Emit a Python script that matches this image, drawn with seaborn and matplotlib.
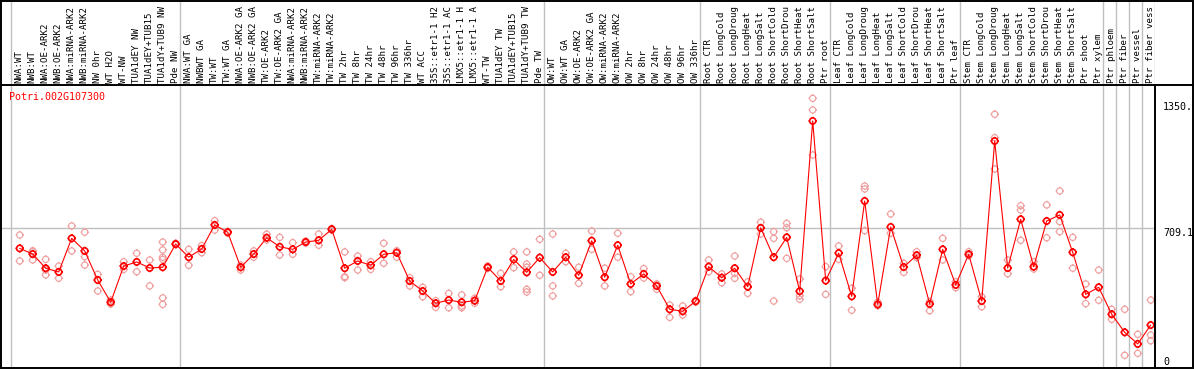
import numpy as np
import pandas as pd
import matplotlib
matplotlib.use("Agg")
import matplotlib.pyplot as plt
import seaborn as sns
from matplotlib.path import Path

# ---------------- data ----------------
gene = "Potri.002G107300"

samples = [
    "NWA:WT", "NWB:WT", "NWA:OE-ARK2", "NWB:OE-ARK2", "NWA:miRNA-ARK2",
    "NWB:miRNA-ARK2", "NW 0hr", "WT H2O", "WT-NW", "TUA1dEY NW",
    "TUA1dEY+TUB15", "TUA1dY+TUB9 NW", "Pde NW", "NWA:WT GA", "NWBWT GA",
    "TW:WT", "TW:WT GA", "NWA:OE-ARK2 GA", "NWB:OE-ARK2 GA", "TW:OE-ARK2",
    "TW:OE-ARK2 GA", "NWA:miRNA-ARK2", "NWB:miRNA-ARK2", "TW:miRNA-ARK2",
    "TW:miRNA-ARK2", "TW 2hr", "TW 8hr", "TW 24hr", "TW 48hr", "TW 96hr",
    "TW 336hr", "WT ACC", "35S::etr1-1 H2", "35S::etr1-1 AC",
    "LMX5::etr1-1 H", "LMX5::etr1-1 A", "WT-TW", "TUA1dEY TW",
    "TUA1dEY+TUB15", "TUA1dY+TUB9 TW", "Pde TW", "OW:WT", "OW:WT GA",
    "OW:OE-ARK2", "OW:OE-ARK2 GA", "OW:miRNA-ARK2", "OW:miRNA-ARK2",
    "OW 2hr", "OW 8hr", "OW 24hr", "OW 48hr", "OW 96hr", "OW 336hr",
    "Root CTR", "Root LongCold", "Root LongDroug", "Root LongHeat",
    "Root LongSalt", "Root ShortCold", "Root ShortDrou", "Root ShortHeat",
    "Root ShortSalt", "Ptr root", "Leaf CTR", "Leaf LongCold",
    "Leaf LongDroug", "Leaf LongHeat", "Leaf LongSalt", "Leaf ShortCold",
    "Leaf ShortDrou", "Leaf ShortHeat", "Leaf ShortSalt", "Ptr leaf",
    "Stem CTR", "Stem LongCold", "Stem LongDroug", "Stem LongHeat",
    "Stem LongSalt", "Stem ShortCold", "Stem ShortDrou", "Stem ShortHeat",
    "Stem ShortSalt", "Ptr shoot", "Ptr xylem", "Ptr phloem", "Ptr fiber",
    "Ptr vessel", "Ptr fiber vess",
]

means = [
    607, 578, 506, 487, 658, 594, 446, 333, 517, 538,
    507, 511, 629, 562, 604, 726, 689, 511, 578, 661,
    615, 602, 639, 648, 704, 506, 543, 521, 577, 585,
    441, 390, 328, 344, 333, 341, 511, 441, 551, 485,
    560, 487, 562, 470, 646, 460, 623, 426, 477, 416,
    297, 287, 338, 514, 458, 506, 412, 711, 562, 663,
    389, 1255, 443, 583, 363, 848, 322, 716, 512, 572,
    324, 602, 421, 577, 339, 1153, 507, 755, 514, 746,
    777, 587, 373, 409, 272, 180, 121, 217,
]

replicates = [
    [675, 543], [595, 548, 590], [551, 472, 497], [517, 455], [721, 594],
    [689, 565, 522], [475, 390], [344, 324], [539, 500], [582, 488],
    [548, 416], [639, 599, 562, 551, 355, 322], [625, 633], [602, 521], [621, 585],
    [748, 700], [685, 693], [497, 522], [562, 594], [679, 650],
    [663, 573], [636, 577], [644, 634], [680, 623], [700, 708],
    [589, 463, 458], [568, 497], [539, 500], [633, 531], [562, 595],
    [458, 416], [409, 361], [341, 307], [378, 305], [370, 305, 314],
    [353, 328], [517, 505], [480, 412], [589, 509], [589, 527, 511, 399, 385],
    [653, 470], [680, 416, 365], [582, 539], [511, 429], [695, 602],
    [506, 416], [684, 562], [463, 387], [504, 456], [426, 399],
    [319, 256], [314, 268], [334, 342], [548, 488], [477, 432],
    [568, 480, 455], [437, 378], [740, 680], [692, 658, 339], [734, 712, 556],
    [451, 366, 348], [1370, 1311, 1082], [514, 373], [619, 551], [404, 292],
    [924, 909, 697], [333, 315], [782, 684], [531, 485], [590, 560],
    [336, 290], [658, 548], [437, 407], [590, 570], [361, 310],
    [1289, 1170, 1011], [548, 478], [824, 802, 648], [539, 502], [828, 661],
    [899, 743, 692], [663, 506], [426, 326], [497, 343], [297, 246],
    [297, 63], [170, 73], [344, 166, 137],
]

group_ends = [-1, 12, 40, 52, 62, 72, 83, 84, 85, 86]
ref_line = 709.1
tick_values = [1350, 709.1, 0]
tick_labels = ["1350.", "709.1", "0"]

# ---------------- styling ----------------
RED = "#FF0000"
PINK = "#F0A0A0"
GRID = "#C0C0C0"
MONO = "DejaVu Sans Mono"

sns.set_style("white")
plt.rcParams["font.family"] = [MONO, "DejaVu Sans"]

W, H = 1194, 370
fig = plt.figure(figsize=(W / 100, H / 100), dpi=100)
fig.patch.set_facecolor("white")


def fx(px):
    return px / W


def fy(py):
    return 1 - py / H


# circle marker with four small outward ticks
circ = Path.circle((0, 0), 1.0)
tick_len = 1.35
ticks = Path(
    [(0, 1), (0, tick_len), (0, -1), (0, -tick_len),
     (1, 0), (tick_len, 0), (-1, 0), (-tick_len, 0)],
    [Path.MOVETO, Path.LINETO] * 4,
)
marker_path = Path.make_compound_path(circ, ticks)

x_lo = (1 - 19.7) / 13.0
x_hi = (1155 - 19.7) / 13.0
y_lo = (367.7 - 368.0) / 0.1966
y_hi = (367.7 - 85.0) / 0.1966

# main plotting area
ax = fig.add_axes([fx(1), fy(368), fx(1155) - fx(1), fy(85) - fy(368)])
ax.set_xlim(x_lo, x_hi)
ax.set_ylim(y_lo, y_hi)
ax.axis("off")

for g in group_ends:
    ax.axvline(g + 0.35, color=GRID, lw=1.0, zorder=1)
ax.axhline(ref_line, color=GRID, lw=1.0, zorder=1)

rep_df = pd.DataFrame(
    [(i, v) for i, reps in enumerate(replicates) for v in reps],
    columns=["idx", "value"],
)
mean_df = pd.DataFrame({"idx": np.arange(len(means)), "value": means})

sns.scatterplot(data=rep_df, x="idx", y="value", marker=marker_path, s=36,
                color=PINK, facecolor="none", edgecolor=PINK, linewidth=0.85,
                ax=ax, legend=False, zorder=2)
sns.lineplot(data=mean_df, x="idx", y="value", color=RED, lw=0.8,
             errorbar=None, ax=ax, legend=False, zorder=3)
sns.scatterplot(data=mean_df, x="idx", y="value", marker=marker_path, s=36,
                color=RED, facecolor="none", edgecolor=RED, linewidth=1.2,
                ax=ax, legend=False, zorder=4)
ax.set_xlim(x_lo, x_hi)
ax.set_ylim(y_lo, y_hi)
ax.axis("off")

# label area on top
lab = fig.add_axes([fx(1), fy(85), fx(1155) - fx(1), fy(0) - fy(85)])
lab.set_xlim(x_lo, x_hi)
lab.set_ylim(0, 85)
lab.axis("off")
for g in group_ends + [87]:
    lab.axvline(g + 0.35, color=GRID, lw=1.0)
for i, s in enumerate(samples):
    lab.text(i - 0.05, 2.3, s, rotation=90, ha="center", va="bottom",
             fontfamily=MONO, fontsize=6.6, color="black")

# overlay for frame lines and side labels
ov = fig.add_axes([0, 0, 1, 1])
ov.set_xlim(0, W)
ov.set_ylim(H, 0)
ov.axis("off")
ov.patch.set_alpha(0)
lw_frame = 1.4
ov.plot([1, 1193, 1193, 1, 1], [0.7, 0.7, 368, 368, 0.7], color="black",
        lw=lw_frame, solid_joinstyle="miter")
ov.plot([1, 1193], [85, 85], color="black", lw=lw_frame)
ov.plot([1155, 1155], [85, 368], color="black", lw=lw_frame)

ov.text(9, 97.5, gene, color=RED, fontfamily=MONO, fontsize=7.2,
        ha="left", va="center")

for v, t in zip(tick_values, tick_labels):
    disp_y = ax.transData.transform((0, v))[1]
    py = H - disp_y + 4.4
    py = min(py, 361.7)
    ov.text(1163, py, t, fontfamily=MONO, fontsize=7.2, ha="left",
            va="center", color="black", clip_on=False)

fig.savefig("out.png", dpi=100, facecolor="white")
